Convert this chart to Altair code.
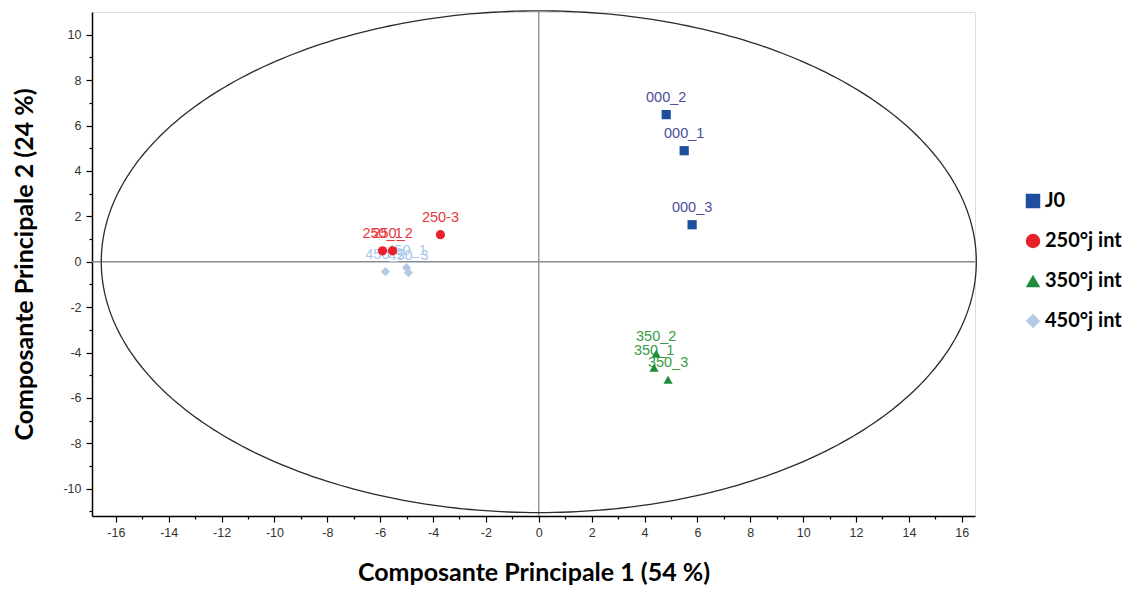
import altair as alt
import pandas as pd
import numpy as np

# ---- data ----
groups = ["J0"] * 3 + ["250°j int"] * 3 + ["350°j int"] * 3 + ["450°j int"] * 3
names = ["000_1", "000_2", "000_3",
         "250_1", "250_2", "250-3",
         "350_1", "350_2", "350_3",
         "450_1", "450_2", "450_3"]
pc1 = [5.50, 4.82, 5.80, -5.91, -5.53, -3.72, 4.36, 4.44, 4.89, -5.00, -5.80, -4.93]
pc2 = [4.89, 6.48, 1.63, 0.48, 0.48, 1.19, -4.67, -4.05, -5.20, -0.26, -0.44, -0.48]

group_order = ["J0", "250°j int", "350°j int", "450°j int"]
marker_colors = ["#1F4E9E", "#E8202A", "#1E8C3A", "#B4C9E3"]
label_colors = ["#4B4E9A", "#E8363C", "#3A9A45", "#A8C8EC"]
marker_shapes = ["square", "circle", "triangle-up", "diamond"]

ellipse_rx = 16.55
ellipse_ry = 11.05

x_domain = [-16.9, 16.5]
y_domain = [-11.2, 11.0]
x_ticks = list(range(-16, 17))
y_ticks = list(range(-11, 11))

df = pd.DataFrame({"group": groups, "name": names, "pc1": pc1, "pc2": pc2})

t = np.linspace(0, 2 * np.pi, 361)
ell = pd.DataFrame({"ex": ellipse_rx * np.cos(t), "ey": ellipse_ry * np.sin(t), "o": np.arange(len(t))})

FONT = "Liberation Sans"
TITLE_FONT = "Lato"

xscale = alt.Scale(domain=x_domain, nice=False, zero=False)
yscale = alt.Scale(domain=y_domain, nice=False, zero=False)

tick_size = {"condition": {"test": "datum.value % 2 === 0", "value": 6}, "value": 3}
label_expr = "datum.value % 2 === 0 ? '' + datum.value : ''"

xaxis = alt.Axis(values=x_ticks, labelExpr=label_expr,
                 title="Composante Principale 1 (54 %)", grid=False,
                 domainColor="#000000", domainWidth=1.5, tickColor="#000000", tickWidth=1.2,
                 tickSize=tick_size, labelFont=FONT, labelFontSize=12.5, labelColor="#333333",
                 labelPadding=4, titleFont=TITLE_FONT, titleFontSize=25, titleFontWeight="bold",
                 titleColor="#000000", titlePadding=22)
yaxis = alt.Axis(values=y_ticks, labelExpr=label_expr,
                 title="Composante Principale 2 (24 %)", grid=False,
                 domainColor="#000000", domainWidth=1.5, tickColor="#000000", tickWidth=1.2,
                 tickSize=tick_size, labelFont=FONT, labelFontSize=12.5, labelColor="#333333",
                 labelPadding=5, titleFont=TITLE_FONT, titleFontSize=25, titleFontWeight="bold",
                 titleColor="#000000", titlePadding=25)

vline = alt.Chart(pd.DataFrame({"v": [0]})).mark_rule(color="#8a8a8a", strokeWidth=1.3).encode(
    x=alt.X("v:Q", scale=xscale, axis=xaxis))
hline = alt.Chart(pd.DataFrame({"v": [0]})).mark_rule(color="#8a8a8a", strokeWidth=1.3).encode(
    y=alt.Y("v:Q", scale=yscale, axis=yaxis))

ellipse = alt.Chart(ell).mark_line(color="#2b2b2b", strokeWidth=1.3).encode(
    x=alt.X("ex:Q", scale=xscale, axis=xaxis),
    y=alt.Y("ey:Q", scale=yscale, axis=yaxis),
    order="o:Q")

points = alt.Chart(df).mark_point(filled=True, opacity=1, size=85).encode(
    x=alt.X("pc1:Q", scale=xscale, axis=xaxis),
    y=alt.Y("pc2:Q", scale=yscale, axis=yaxis),
    color=alt.Color("group:N", scale=alt.Scale(domain=group_order, range=marker_colors),
                    sort=group_order,
                    legend=alt.Legend(title=None, orient="none", legendX=931, legendY=179,
                                      labelFont=TITLE_FONT, labelFontSize=20, labelFontWeight="bold",
                                      labelColor="#000000", symbolSize=210, rowPadding=20,
                                      symbolStrokeWidth=0, labelOffset=2)),
    shape=alt.Shape("group:N", scale=alt.Scale(domain=group_order, range=marker_shapes),
                    sort=group_order),
)

label_layers = []
for g, c in zip(group_order, label_colors):
    label_layers.append(
        alt.Chart(df).transform_filter(alt.datum.group == g).mark_text(
            font=FONT, fontSize=14.5, dy=-17, baseline="middle", align="center", color=c
        ).encode(
            x=alt.X("pc1:Q", scale=xscale, axis=xaxis),
            y=alt.Y("pc2:Q", scale=yscale, axis=yaxis),
            text="name:N",
        )
    )

chart = alt.layer(vline, hline, ellipse, *label_layers, points).properties(
    width=883, height=504,
    autosize=alt.AutoSizeParams(type="none"),
    padding={"left": 84, "top": 4, "right": 156, "bottom": 71},
).configure_view(stroke=None).configure(background="white")

chart.save("out.html", embed_options={"renderer": "svg", "actions": False})
